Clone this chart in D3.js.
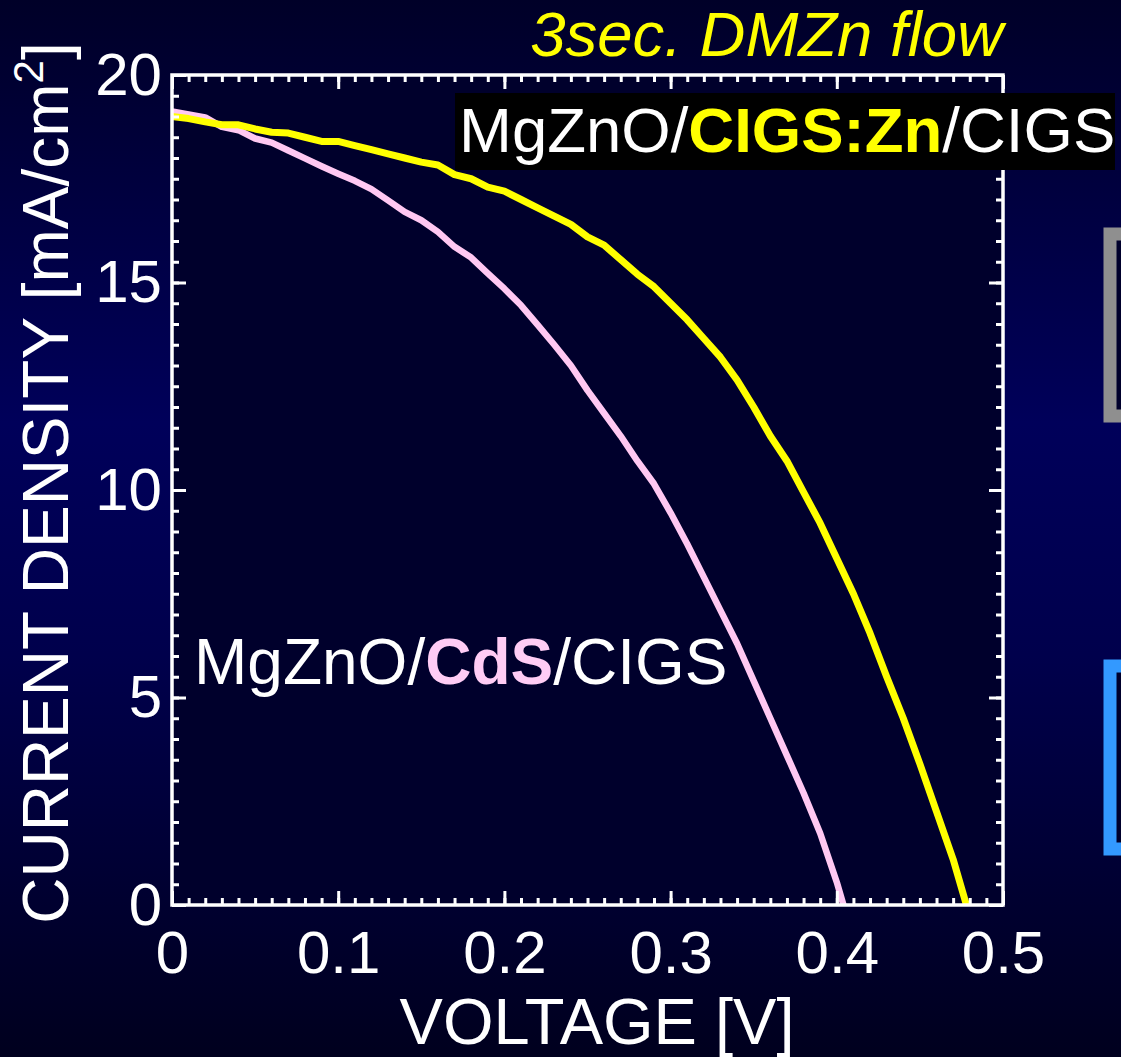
<!DOCTYPE html>
<html>
<head>
<meta charset="utf-8">
<script src="https://cdn.jsdelivr.net/npm/d3@7"></script>
<style>
  html, body { margin: 0; padding: 0; background: #000030; }
  svg { display: block; }
  text { font-family: "Liberation Sans", Arial, Helvetica, sans-serif; }
</style>
</head>
<body>
<svg id="chart" width="1121" height="1057"></svg>
<script>
// J-V curves of MgZnO buffer cells
const voltageCIGSZn = [0, 0.01, 0.02, 0.03, 0.04, 0.05, 0.06, 0.07, 0.08, 0.09, 0.10, 0.11, 0.12, 0.13, 0.14, 0.15, 0.16, 0.17, 0.18, 0.19, 0.20, 0.21, 0.22, 0.23, 0.24, 0.25, 0.26, 0.27, 0.28, 0.29, 0.30, 0.31, 0.32, 0.33, 0.34, 0.35, 0.36, 0.37, 0.38, 0.39, 0.40, 0.41, 0.42, 0.43, 0.44, 0.45, 0.46, 0.47, 0.478];
const currentCIGSZn = [19.0, 18.95, 18.87, 18.8, 18.8, 18.7, 18.62, 18.6, 18.5, 18.4, 18.4, 18.3, 18.2, 18.1, 18.0, 17.9, 17.83, 17.6, 17.5, 17.3, 17.2, 17.0, 16.8, 16.6, 16.4, 16.1, 15.9, 15.55, 15.2, 14.9, 14.5, 14.1, 13.65, 13.2, 12.65, 12.0, 11.3, 10.7, 9.95, 9.2, 8.35, 7.5, 6.55, 5.5, 4.5, 3.4, 2.25, 1.1, 0];

const voltageCdS = [0, 0.01, 0.02, 0.03, 0.04, 0.05, 0.06, 0.07, 0.08, 0.09, 0.10, 0.11, 0.12, 0.13, 0.14, 0.15, 0.16, 0.17, 0.18, 0.19, 0.20, 0.21, 0.22, 0.23, 0.24, 0.25, 0.26, 0.27, 0.28, 0.29, 0.30, 0.31, 0.32, 0.33, 0.34, 0.35, 0.36, 0.37, 0.38, 0.39, 0.40, 0.404];
const currentCdS = [19.12, 19.05, 18.98, 18.75, 18.67, 18.47, 18.37, 18.18, 17.99, 17.8, 17.62, 17.45, 17.25, 16.98, 16.7, 16.5, 16.22, 15.86, 15.6, 15.22, 14.85, 14.45, 13.98, 13.5, 13.0, 12.4, 11.85, 11.3, 10.7, 10.15, 9.45, 8.7, 7.9, 7.1, 6.3, 5.4, 4.5, 3.6, 2.7, 1.73, 0.55, 0];

const xTicks = [0, 0.1, 0.2, 0.3, 0.4, 0.5];
const xTickLabels = ["0", "0.1", "0.2", "0.3", "0.4", "0.5"];
const yTicks = [0, 5, 10, 15, 20];
const yTickLabels = ["0", "5", "10", "15", "20"];

const W = 1121, H = 1057;
const m = { left: 172, right: 1003, top: 75, bottom: 905 };

const svg = d3.select("#chart");
const defs = svg.append("defs");

// slide background: dark navy, brighter through the middle
const bg = defs.append("linearGradient").attr("id", "bg").attr("x1", 0).attr("y1", 0).attr("x2", 0).attr("y2", 1);
bg.append("stop").attr("offset", "0%").attr("stop-color", "#000028");
bg.append("stop").attr("offset", "40%").attr("stop-color", "#00005a");
bg.append("stop").attr("offset", "62%").attr("stop-color", "#00004c");
bg.append("stop").attr("offset", "100%").attr("stop-color", "#00001e");
svg.append("rect").attr("width", W).attr("height", H).attr("fill", "url(#bg)");

const x = d3.scaleLinear().domain([0, 0.5]).range([m.left, m.right]);
const y = d3.scaleLinear().domain([0, 20]).range([m.bottom, m.top]);

// plot area
svg.append("rect")
  .attr("x", x(0)).attr("y", y(20))
  .attr("width", x(0.5) - x(0)).attr("height", y(0) - y(20))
  .attr("fill", "#00002c");

// side panels partly off the right edge
svg.append("rect").attr("x", 1110).attr("y", 234).attr("width", 100).attr("height", 182)
  .attr("fill", "#00002c").attr("stroke", "#8f8f8f").attr("stroke-width", 13);
svg.append("rect").attr("x", 1110).attr("y", 666).attr("width", 100).attr("height", 183)
  .attr("fill", "#00002c").attr("stroke", "#3399ff").attr("stroke-width", 13);

// curves
const line = d3.line().x(d => x(d[0])).y(d => y(d[1]));
svg.append("path")
  .datum(voltageCdS.map((v, i) => [v, currentCdS[i]]))
  .attr("d", line).attr("fill", "none")
  .attr("stroke", "#ffc8f2").attr("stroke-width", 6.5).attr("stroke-linejoin", "round");
svg.append("path")
  .datum(voltageCIGSZn.map((v, i) => [v, currentCIGSZn[i]]))
  .attr("d", line).attr("fill", "none")
  .attr("stroke", "#ffff00").attr("stroke-width", 7).attr("stroke-linejoin", "round");

// axes with inward ticks on all four sides
const major = 14, minor = 7;
const xMinor = d3.range(0, 0.5001, 0.01);
const yMinor = d3.range(0, 20.001, 0.5);

function styleAxis(g) {
  g.select(".domain").remove();
  g.selectAll("line").attr("stroke", "#fff").attr("stroke-width", 3);
  g.selectAll("text").attr("fill", "#fff").attr("font-size", 60);
}

svg.append("g").attr("transform", `translate(0,${m.bottom})`)
  .call(d3.axisBottom(x).tickValues(xMinor).tickSize(-minor).tickFormat("")).call(styleAxis);
svg.append("g").attr("transform", `translate(0,${m.bottom})`)
  .call(d3.axisBottom(x).tickValues(xTicks).tickSize(-major).tickPadding(25)
    .tickFormat((d, i) => xTickLabels[i])).call(styleAxis);

svg.append("g").attr("transform", `translate(0,${m.top})`)
  .call(d3.axisTop(x).tickValues(xMinor).tickSize(-minor).tickFormat("")).call(styleAxis);
svg.append("g").attr("transform", `translate(0,${m.top})`)
  .call(d3.axisTop(x).tickValues(xTicks).tickSize(-major).tickFormat("")).call(styleAxis);

svg.append("g").attr("transform", `translate(${m.left},0)`)
  .call(d3.axisLeft(y).tickValues(yMinor).tickSize(-minor).tickFormat("")).call(styleAxis);
svg.append("g").attr("transform", `translate(${m.left},0)`)
  .call(d3.axisLeft(y).tickValues(yTicks).tickSize(-major).tickPadding(10)
    .tickFormat((d, i) => yTickLabels[i])).call(styleAxis);

svg.append("g").attr("transform", `translate(${m.right},0)`)
  .call(d3.axisRight(y).tickValues(yMinor).tickSize(-minor).tickFormat("")).call(styleAxis);
svg.append("g").attr("transform", `translate(${m.right},0)`)
  .call(d3.axisRight(y).tickValues(yTicks).tickSize(-major).tickFormat("")).call(styleAxis);

// frame
svg.append("rect")
  .attr("x", m.left).attr("y", m.top)
  .attr("width", m.right - m.left).attr("height", m.bottom - m.top)
  .attr("fill", "none").attr("stroke", "#fff").attr("stroke-width", 3.5);

// axis titles
svg.append("text")
  .attr("x", 597).attr("y", 1044)
  .attr("text-anchor", "middle").attr("fill", "#fff").attr("font-size", 65)
  .text("VOLTAGE [V]");

const yl = svg.append("text")
  .attr("transform", "translate(68,483) rotate(-90)")
  .attr("text-anchor", "middle").attr("fill", "#fff").attr("font-size", 64);
yl.append("tspan").text("CURRENT DENSITY [mA/cm");
yl.append("tspan").attr("font-size", 42).attr("dy", -25).text("2");
yl.append("tspan").attr("dy", 25).text("]");

// condition note
svg.append("text")
  .attr("x", 1003).attr("y", 56)
  .attr("text-anchor", "end").attr("fill", "#ffff00")
  .attr("font-size", 63.5).attr("font-style", "italic")
  .text("3sec. DMZn flow");

// series labels
svg.append("rect").attr("x", 455).attr("y", 93).attr("width", 660).attr("height", 77).attr("fill", "#000");
const l1 = svg.append("text").attr("x", 459).attr("y", 152).attr("font-size", 63.5).attr("fill", "#fff");
l1.append("tspan").text("MgZnO/");
l1.append("tspan").attr("fill", "#ffff00").attr("font-weight", "bold").text("CIGS:Zn");
l1.append("tspan").text("/CIGS");

const l2 = svg.append("text").attr("x", 194).attr("y", 684).attr("font-size", 64).attr("fill", "#fff");
l2.append("tspan").text("MgZnO/");
l2.append("tspan").attr("fill", "#ffccf5").attr("font-weight", "bold").text("CdS");
l2.append("tspan").text("/CIGS");
</script>
</body>
</html>
